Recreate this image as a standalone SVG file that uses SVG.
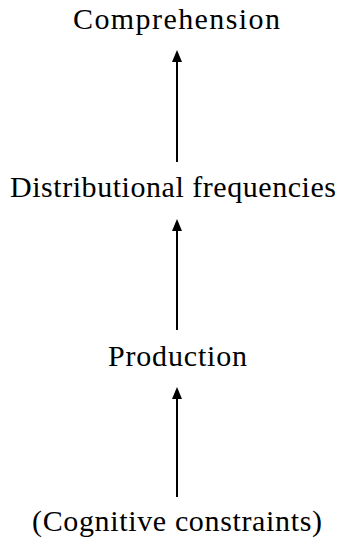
<svg xmlns="http://www.w3.org/2000/svg" width="346" height="544" viewBox="0 0 346 544">
  <style>
    .label { font-family: "Liberation Serif", "DejaVu Serif", serif; font-size: 30px; fill: #000; text-anchor: middle; }
    .conn { stroke: #000; stroke-width: 2; fill: none; marker-end: url(#head); }
  </style>
  <defs>
    <!-- arrowhead starts where the line stops and runs 12px further -->
    <marker id="head" viewBox="0 0 12 10" refX="0" refY="5" markerWidth="12" markerHeight="10" orient="auto" markerUnits="userSpaceOnUse">
      <path d="M0,0 L12,5 L0,10 Z" fill="#000"/>
    </marker>
  </defs>
  <rect width="346" height="544" fill="#fff"/>
  <g id="connectors">
    <line class="conn" x1="177" y1="162" x2="177" y2="62"/>
    <line class="conn" x1="177" y1="330" x2="177" y2="231"/>
    <line class="conn" x1="177" y1="497" x2="177" y2="399"/>
  </g>
  <g id="comprehension"><text class="label" x="176.5" y="29" textLength="207">Comprehension</text></g>
  <g id="distributional"><text class="label" x="173" y="197" textLength="326">Distributional frequencies</text></g>
  <g id="production"><text class="label" x="177.5" y="366" textLength="139">Production</text></g>
  <g id="cognitive"><text class="label" x="177" y="531" textLength="290">(Cognitive constraints)</text></g>
</svg>
